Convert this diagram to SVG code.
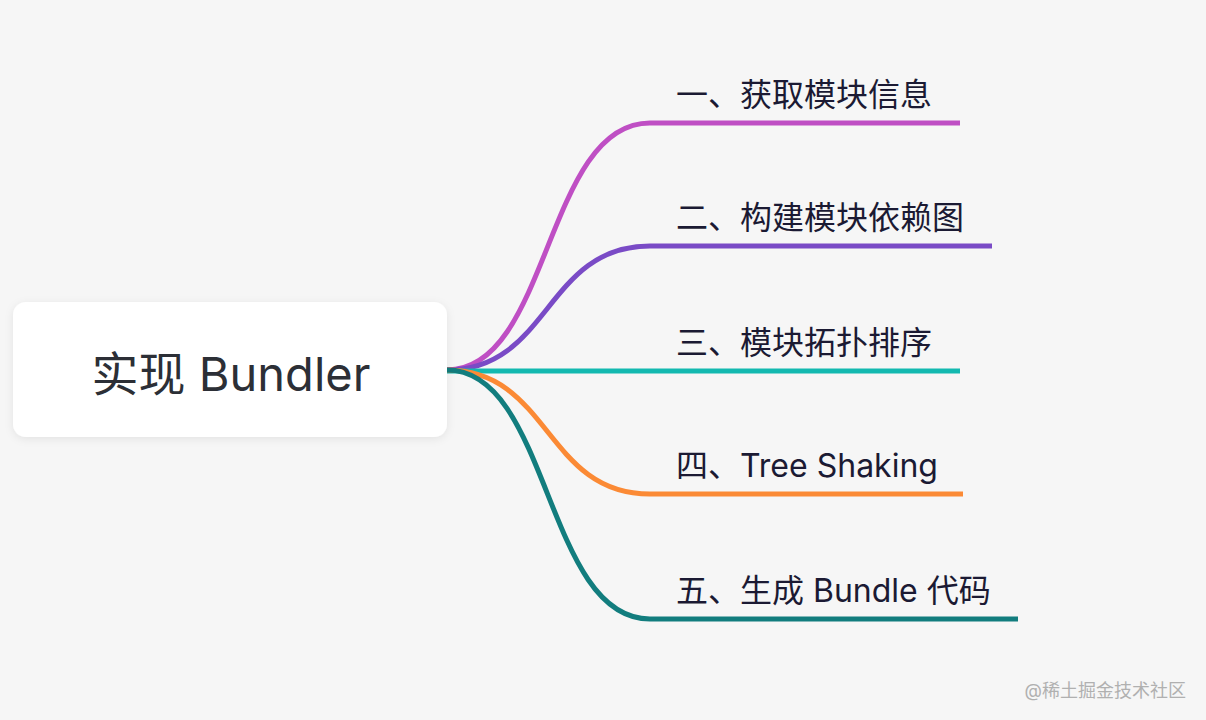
<svg xmlns="http://www.w3.org/2000/svg" width="1206" height="720" viewBox="0 0 1206 720">
<defs>
<filter id="sh" x="-10%" y="-20%" width="120%" height="150%">
<feDropShadow dx="0" dy="2" stdDeviation="4" flood-color="#000" flood-opacity="0.08"/>
</filter>
<style>
.br{fill:none;stroke-width:5;stroke-linecap:butt}
.lb{font-family:Inter,"Noto Sans CJK SC",sans-serif;font-size:32px;fill:#1b1a33}
.root{font-family:Inter,"Noto Sans CJK SC",sans-serif;font-size:47px;fill:#2c2f36}
</style>
</defs>
<rect width="1206" height="720" fill="#f6f6f6"/>
<g id="connectors">
<path class="br" stroke="#bf4fc4" d="M447,370 C550,370 545,123 650,123 L960,123"/>
<path class="br" stroke="#7a4bc6" d="M447,370 C550,370 545,246 650,246 L992,246"/>
<path class="br" stroke="#13b9b0" d="M447,371 L960,371"/>
<path class="br" stroke="#fb8a35" d="M447,370 C550,370 545,494 650,494 L963,494"/>
<path class="br" stroke="#127d7e" d="M447,370 C550,370 545,619 650,619 L1018,619"/>
</g>
<g id="root">
<rect x="13" y="302" width="434" height="135" rx="13" fill="#ffffff" filter="url(#sh)"/>
<text class="root" x="231" y="391" text-anchor="middle">实现 Bundler</text>
</g>
<g id="n1"><text class="lb" x="676" y="106">一、获取模块信息</text></g>
<g id="n2"><text class="lb" x="676" y="229">二、构建模块依赖图</text></g>
<g id="n3"><text class="lb" x="676" y="354">三、模块拓扑排序</text></g>
<g id="n4"><text class="lb" x="676" y="477">四、Tree Shaking</text></g>
<g id="n5"><text class="lb" x="676" y="602">五、生成 Bundle 代码</text></g>
<text x="1186" y="697" text-anchor="end" font-family="Inter,'Noto Sans CJK SC',sans-serif" font-size="18" fill="#b0b0b0">@稀土掘金技术社区</text>
</svg>
